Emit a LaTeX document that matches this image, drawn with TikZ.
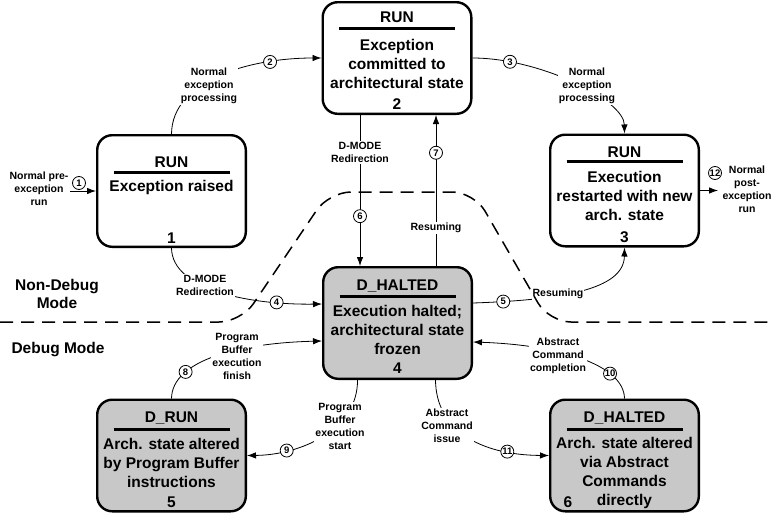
\documentclass[tikz,border=0pt]{standalone}
\usepackage{fontspec}
\setmainfont{Liberation Sans}
\usepackage{tikz}
\usetikzlibrary{arrows.meta}
\definecolor{haltgray}{RGB}{200,200,200}
\tikzset{>={Latex[length=9pt,width=6.5pt]}}
\tikzset{
  state/.style={draw, line width=2.4pt, rounded corners=15pt, minimum width=148.6pt, minimum height=111.6pt, inner sep=0pt},
  dstate/.style={state, fill=haltgray},
  head/.style={font=\fontsize{15.5}{19}\selectfont\bfseries, inner sep=0pt},
  body/.style={head, align=center},
  bar/.style={line width=3pt},
  trans/.style={->, line width=.8pt},
  tag/.style={fill=white, inner sep=1pt, align=center, font=\fontsize{10.5}{13}\selectfont\bfseries},
  num/.style={draw, circle, fill=white, line width=.8pt, inner sep=0pt, minimum size=13pt, font=\fontsize{9.5}{10}\selectfont\bfseries},
  mode/.style={align=center, font=\fontsize{15.5}{18}\selectfont\bfseries},
  boundary/.style={line width=1.5pt, dash pattern=on 13pt off 8pt, rounded corners=22pt}
}

\begin{document}
\begin{tikzpicture}[x=1pt, y=-1pt]
    \useasboundingbox (0,0) rectangle (774,514);
    % states
    \node[state](run1) at (171.5,191){};
    \node[state](commit2) at (397,58){};
    \node[state](restart3) at (624.5,190.5){};
    \node[dstate](halted4) at (397.5,323){};
    \node[dstate](drun5) at (171.5,455.5){};
    \node[dstate](abscmd6) at (624.5,455.5){};

    \node[head](run1t) at (171.5,162){RUN};
    \draw[bar](113.5,172)--(229.5,172);
    \node[body](run1b) at (171.5,187){Exception raised};
    \node[head](run1n) at (171.5,238){1};

    \node[head](commit2t) at (397,17){RUN};
    \draw[bar](339,28)--(455,28);
    \node[body](commit2b) at (397,63.5){Exception\\committed to\\architectural state};
    \node[head](commit2n) at (397,104){2};

    \node[head](restart3t) at (624.5,152){RUN};
    \draw[bar](566.5,161)--(682.5,161);
    \node[body](restart3b) at (624.5,196){Execution\\restarted with new\\arch. state};
    \node[head](restart3n) at (624.5,237){3};

    \node[head](halted4t) at (397.5,286){D\_HALTED};
    \draw[bar](339.5,296)--(455.5,296);
    \node[body](halted4b) at (397.5,330){Execution halted;\\architectural state\\frozen};
    \node[head](halted4n) at (397.5,368){4};

    \node[head](drun5t) at (171.5,418){D\_RUN};
    \draw[bar](113.5,429)--(229.5,429);
    \node[body](drun5b) at (171.5,462.5){Arch. state altered\\by Program Buffer\\instructions};
    \node[head](drun5n) at (171.5,502){5};

    \node[head](abscmd6t) at (624.5,418){D\_HALTED};
    \draw[bar](566.5,429)--(682.5,429);
    \node[body](abscmd6b) at (624.5,472.5){Arch. state altered\\via Abstract\\Commands\\directly};
    \node[head](abscmd6n) at (568,502){6};

    % transitions
    \coordinate(pre) at (70,191);
    \coordinate(post) at (718,190.5);
    \draw[trans](pre)--(run1.west);
    \node[num](c1) at (79,183){1};
    \draw[trans](run1.north) .. controls (172,80) and (250,58) .. (commit2.west)node[num, pos=.76](c2){2};
    \draw[trans](commit2.east) .. controls (540,58) and (624,100) .. (restart3.north)node[num, pos=.18](c3){3};
    \draw[trans](run1.south) .. controls (172,290) and (250,305) .. ([yshift=19pt]halted4.west)node[num, pos=.79](c4){4};
    \draw[trans]([yshift=20pt]halted4.east) .. controls (560,300) and (624,290) .. (restart3.south)node[num, pos=.12](c5){5};
    \draw[trans]([xshift=-37pt]commit2.south)--([xshift=-37.5pt]halted4.north)node[num, pos=.67](c6){6};
    \draw[trans]([xshift=38.5pt]halted4.north)--([xshift=39pt]commit2.south)node[num, pos=.75](c7){7};
    \draw[trans](drun5.north) .. controls (172,360) and (240,343) .. ([yshift=-18pt]halted4.west)node[num, pos=.27](c8){8};
    \draw[trans]([xshift=-40pt]halted4.south) .. controls (358,430) and (300,455) .. (drun5.east)node[num, pos=.75](c9){9};
    \draw[trans](abscmd6.north) .. controls (624,365) and (560,345) .. ([yshift=-19pt]halted4.east)node[num, pos=.28](c10){10};
    \draw[trans]([xshift=38pt]halted4.south) .. controls (436,430) and (480,455) .. (abscmd6.west)node[num, pos=.78](c11){11};
    \draw[trans](restart3.east)--(post);
    \node[num](c12) at (715,173){12};

    % transition labels
    \node[tag](lab1) at (39,189){Normal pre-\\exception\\run};
    \node[tag](lab2) at (209,86){Normal\\exception\\processing};
    \node[tag](lab3) at (587,86){Normal\\exception\\processing};
    \node[tag](lab4) at (205,285.5){D-MODE\\Redirection};
    \node[tag](lab5) at (558,294){Resuming};
    \node[tag](lab6) at (360,152.5){D-MODE\\Redirection};
    \node[tag](lab7) at (436,228){Resuming};
    \node[tag](lab8) at (237,356.5){Program\\Buffer\\execution\\finish};
    \node[tag](lab9) at (340,426){Program\\Buffer\\execution\\start};
    \node[tag](lab10) at (558,356){Abstract\\Command\\completion};
    \node[tag](lab11) at (447,426){Abstract\\Command\\issue};
    \node[tag](lab12) at (747,189){Normal\\post-\\exception\\run};

    % mode boundary
    \draw[boundary](0,322)--(241,322)--(329,192)--(474,192)--(549,322)--(774,322);
    \node[mode](nondebug) at (57,294){Non-Debug\\Mode};
    \node[mode](debug) at (58,350){Debug Mode};
\end{tikzpicture}
\end{document}
